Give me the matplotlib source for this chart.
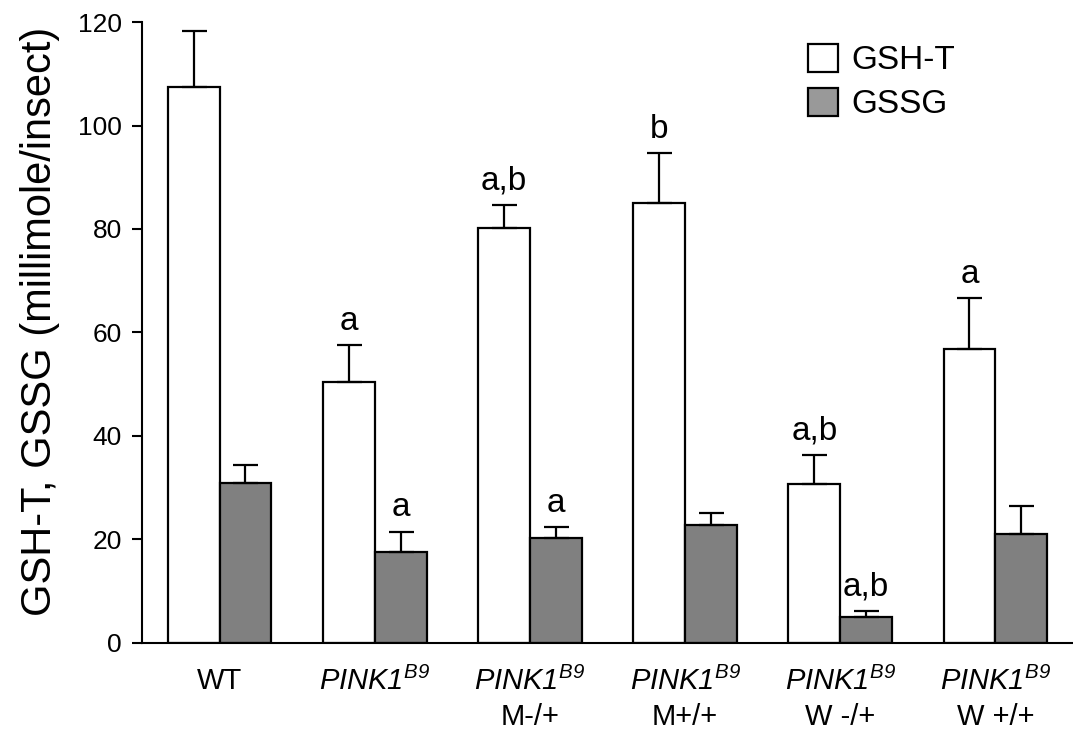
import matplotlib.pyplot as plt
from matplotlib.patches import Patch
import numpy as np

plt.rcParams["font.family"] = ["Liberation Sans", "DejaVu Sans"]
plt.rcParams["mathtext.fontset"] = "custom"
plt.rcParams["mathtext.rm"] = "Liberation Sans"
plt.rcParams["mathtext.sf"] = "Liberation Sans:italic"

# Data
line1 = ["WT", r"$\mathsf{PINK1}^{\mathsf{B9}}$", r"$\mathsf{PINK1}^{\mathsf{B9}}$",
         r"$\mathsf{PINK1}^{\mathsf{B9}}$", r"$\mathsf{PINK1}^{\mathsf{B9}}$",
         r"$\mathsf{PINK1}^{\mathsf{B9}}$"]
line2 = ["", "", "M-/+", "M+/+", "W -/+", "W +/+"]

gsh_t = [107.5, 50.4, 80.2, 85.1, 30.8, 56.9]
gsh_t_err = [10.7, 7.1, 4.5, 9.5, 5.6, 9.7]
gssg = [31.0, 17.5, 20.3, 22.8, 5.0, 21.1]
gssg_err = [3.3, 4.0, 2.1, 2.3, 1.2, 5.3]

gsh_t_sig = ["", "a", "a,b", "b", "a,b", "a"]
gssg_sig = ["", "a", "a", "", "a,b", ""]

x = np.arange(len(line1))
w = 0.334

fig = plt.figure(figsize=(10.73, 7.36), dpi=100)
ax = fig.add_axes([0.1323, 0.1264, 0.8677, 0.8437])

err_kw = dict(elinewidth=1.6, capsize=9, capthick=1.6, ecolor="black")
ax.bar(x - w / 2, gsh_t, w, color="white", edgecolor="black", linewidth=1.6,
       yerr=[np.zeros(len(x)), gsh_t_err], error_kw=err_kw, zorder=2)
ax.bar(x + w / 2, gssg, w, color="#808080", edgecolor="black", linewidth=1.6,
       yerr=[np.zeros(len(x)), gssg_err], error_kw=err_kw, zorder=2)

# significance letters
for i in range(len(x)):
    if gsh_t_sig[i]:
        ax.annotate(gsh_t_sig[i], (x[i] - w / 2, gsh_t[i] + gsh_t_err[i]),
                    xytext=(0, 11), textcoords="offset points",
                    ha="center", va="baseline", fontsize=24)
    if gssg_sig[i]:
        ax.annotate(gssg_sig[i], (x[i] + w / 2, gssg[i] + gssg_err[i]),
                    xytext=(0, 11), textcoords="offset points",
                    ha="center", va="baseline", fontsize=24)

# category labels
for i in range(len(x)):
    ax.annotate(line1[i], (x[i], 0), xycoords=("data", "axes fraction"),
                xytext=(0, -27.5), textcoords="offset points",
                ha="center", va="center", fontsize=21)
    if line2[i]:
        ax.annotate(line2[i], (x[i], 0), xycoords=("data", "axes fraction"),
                    xytext=(0, -53.5), textcoords="offset points",
                    ha="center", va="center", fontsize=21)

ax.set_xlim(-0.5, 5.5)
ax.set_ylim(0, 120)
ax.set_yticks([0, 20, 40, 60, 80, 100, 120])
ax.set_xticks([])
ax.tick_params(axis="y", direction="out", length=7.5, width=1.5, pad=7, labelsize=19)
for s in ["top", "right"]:
    ax.spines[s].set_visible(False)
for s in ["left", "bottom"]:
    ax.spines[s].set_linewidth(1.5)

ax.set_ylabel("GSH-T, GSSG (millimole/insect)", fontsize=30)
ax.yaxis.set_label_coords(-0.088, 0.518)

handles = [Patch(facecolor="white", edgecolor="black", linewidth=1.6, label="GSH-T"),
           Patch(facecolor="#999999", edgecolor="black", linewidth=1.6, label="GSSG")]
ax.legend(handles=handles, loc="upper left", bbox_to_anchor=(0.701, 0.986), frameon=False,
          fontsize=24, handlelength=0.9, handleheight=0.9, handletextpad=0.4,
          labelspacing=0.35, borderaxespad=0)

fig.savefig("out.png", dpi=100)
